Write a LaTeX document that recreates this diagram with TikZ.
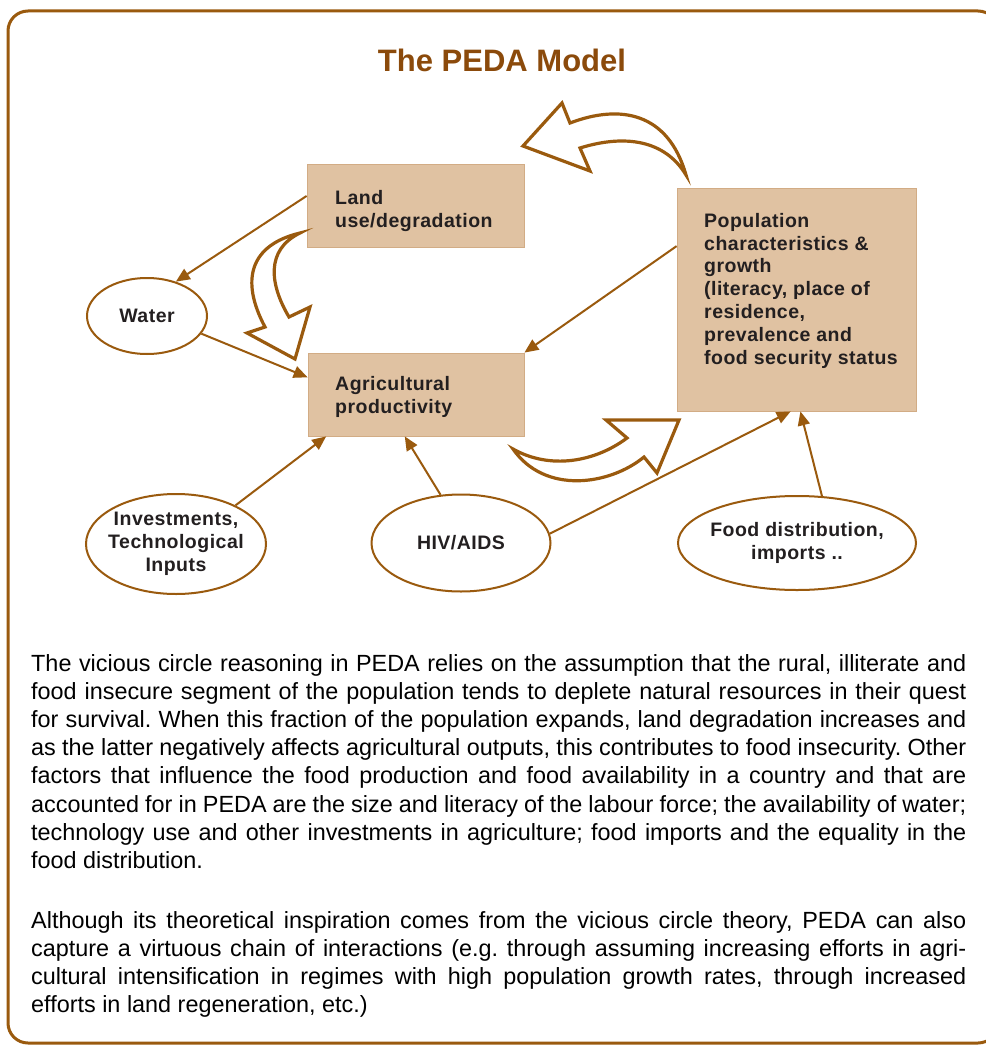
\documentclass[tikz,border=0pt]{standalone}
\usepackage{fontspec}
\setmainfont{Liberation Sans}
\usetikzlibrary{shapes.geometric,arrows.meta,calc}
\definecolor{brn}{HTML}{9A5A0E}
\definecolor{ttl}{HTML}{8B4A0B}
\definecolor{boxfill}{HTML}{E0C2A2}
\definecolor{boxline}{HTML}{D2AC85}
\definecolor{txt}{HTML}{231F20}
\newfontfamily\nodefont[LetterSpace=2.5]{Liberation Sans}
\tikzset{
  tanbox/.style={rectangle, fill=boxfill, draw=boxline, line width=0.8pt, inner sep=0pt},
  oval/.style={ellipse, draw=brn, line width=2pt, fill=white, inner sep=0pt},
  boxtext/.style={anchor=north west, inner sep=0pt, align=left, text=txt, font=\nodefont\bfseries\fontsize{19.5}{22.8}\selectfont},
  ovaltext/.style={inner sep=0pt, align=center, text=txt, font=\nodefont\bfseries\fontsize{19.5}{22.8}\selectfont},
  conn/.style={draw=brn, line width=2pt, -{Triangle[length=14pt,width=12pt]}},
  bigarrow/.style={draw=brn, line width=3.2pt, fill=white, line join=miter},
  bodytext/.style={anchor=base west, inner sep=0pt, text=black, font=\frenchspacing\fontsize{23.4}{28.2}\selectfont}
}
\newcommand{\jl}[1]{\makebox[935pt][s]{#1}\par}
\begin{document}
\frenchspacing
\begin{tikzpicture}[x=1pt,y=-1pt]
\useasboundingbox (0,0) rectangle (985,1046);
\fill[white] (0,0) rectangle (985,1046);
\draw[brn, line width=3pt, rounded corners=20pt] (8,11) rectangle (998,1043);

\node[text=ttl, font=\bfseries\fontsize{31}{36}\selectfont, inner sep=0pt] (title) at (502,60) {The PEDA Model};

% boxes
\node[tanbox, minimum width=217pt, minimum height=83pt] (land) at (415.5,205.5) {};
\node[tanbox, minimum width=216pt, minimum height=83pt] (agri) at (416,394.5) {};
\node[tanbox, minimum width=239pt, minimum height=223pt] (pop) at (796.5,299.5) {};

\node[boxtext] (landtext) at (335,190) {Land\\use/degradation};
\node[boxtext] (agritext) at (335,376) {Agricultural\\productivity};
\node[boxtext] (poptext) at (704,213) {Population\\characteristics \&\\growth\\(literacy, place of\\residence,\\prevalence and\\food security status};

% ellipses
\node[oval, minimum width=120pt, minimum height=76pt] (water) at (147,316) {};
\node[oval, minimum width=180pt, minimum height=100pt] (inv) at (176,544) {};
\node[oval, minimum width=179pt, minimum height=97pt] (hiv) at (461,543) {};
\node[oval, minimum width=238pt, minimum height=94pt] (food) at (797,543) {};

\node[ovaltext] (watertext) at (water.center) {Water};
\node[ovaltext] (invtext) at (inv.center) {Investments,\\Technological\\Inputs};
\node[ovaltext] (hivtext) at (hiv.center) {HIV/AIDS};
\node[ovaltext] (foodtext) at (food.center) {Food distribution,\\imports ..};

% connectors
\draw[conn] (land.175) -- (water.50);
\draw[conn] (water.-18) -- (agri.171);
\draw[conn] (pop.156) -- (agri.north east);
\draw[conn] (inv.33) -- (agri.205);
\draw[conn] (hiv.113) -- (agri.255);
\draw[conn] (hiv.6) -- (pop.267);
\draw[conn] (food.62) -- (pop.272);

% big outline arrows
\draw[bigarrow] (523,146) -- (562,103) -- (570,123)
  .. controls (620,104) and (668,112) .. (686,175)
  .. controls (665,140) and (625,134) .. (580,148) -- (590,171) -- cycle;
\draw[bigarrow] (300,233) .. controls (250,245) and (240,280) .. (265,327)
  -- (247,333) -- (295,359) -- (310,307) -- (289,317)
  .. controls (270,285) and (265,250) .. (300,233) -- cycle;
\draw[bigarrow] (513,449) .. controls (550,470) and (595,462) .. (627,438)
  -- (606,420) -- (679,420) -- (657,473) -- (644,457)
  .. controls (610,485) and (545,495) .. (513,449) -- cycle;

% body text
\node[bodytext] (para1) at (31,671) {\parbox[t]{935pt}{\frenchspacing%
\jl{The vicious circle reasoning in PEDA relies on the assumption that the rural, illiterate and}
\jl{food insecure segment of the population tends to deplete natural resources in their quest}
\jl{for survival. When this fraction of the population expands, land degradation increases and}
\jl{as the latter negatively affects agricultural outputs, this contributes to food insecurity. Other}
\jl{factors that influence the food production and food availability in a country and that are}
\jl{accounted for in PEDA are the size and literacy of the labour force; the availability of water;}
\jl{technology use and other investments in agriculture; food imports and the equality in the}
food distribution.}};

\node[bodytext] (para2) at (31,928) {\parbox[t]{935pt}{\frenchspacing%
\jl{Although its theoretical inspiration comes from the vicious circle theory, PEDA can also}
\jl{capture a virtuous chain of interactions (e.g. through assuming increasing efforts in agri-}
\jl{cultural intensification in regimes with high population growth rates, through increased}
efforts in land regeneration, etc.)}};
\end{tikzpicture}
\end{document}
